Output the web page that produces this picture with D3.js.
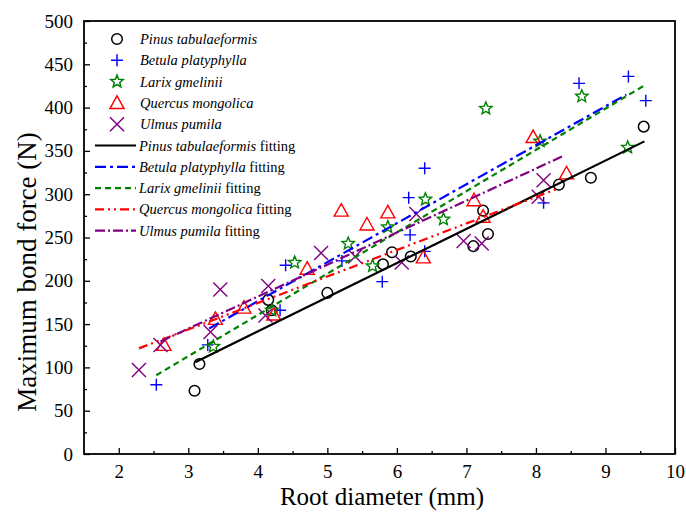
<!DOCTYPE html>
<html>
<head>
<meta charset="utf-8">
<script src="https://cdn.jsdelivr.net/npm/d3@7"></script>
<style>
  body { margin: 0; background: #fff; }
  text { font-family: "Liberation Serif", "DejaVu Serif", serif; }
</style>
</head>
<body>
<div id="vis"></div>
<script>
// root diameter (mm), maximum bond force (N)
var pinus = [[3.09,73],[3.16,104],[4.15,178],[4.2,166],[5.0,186],[5.8,219],[5.93,233],[6.2,228],
             [7.1,240],[7.24,281],[7.31,254],[8.33,311],[8.79,319],[9.55,378]];
var betula = [[2.54,80],[3.28,126],[4.32,166],[4.4,218],[5.21,223],[5.79,199],[6.17,296],[6.19,253],
              [6.4,234],[6.4,330],[8.11,290],[8.62,428],[9.33,436],[9.58,408]];
var larix = [[3.36,124],[4.2,166],[4.53,221],[5.3,243],[5.65,217],[5.87,262],[6.41,294],[6.67,271],
             [7.28,399],[8.06,361],[8.66,413],[9.32,354]];
var quercus = [[2.65,126],[3.39,156],[3.8,169],[4.23,161],[4.71,214],[5.2,281],[5.57,265],[5.87,279],
               [6.38,227],[7.11,293],[7.24,274],[7.96,366],[8.44,324]];
var ulmus = [[2.29,97],[2.6,126],[3.32,141],[3.46,190],[4.11,160],[4.15,194],[4.91,232],[5.4,228],
             [6.07,221],[6.28,277],[6.96,246],[7.22,243],[8.04,297],[8.11,316]];

// fitted lines: start and end points
var pinus_fit = [[3.1,106],[9.56,361]];
var betula_fit = [[3.3,145],[9.3,415]];
var larix_fit = [[2.54,91],[9.57,426]];
var quercus_fit = [[2.29,122],[8.3,306]];
var ulmus_fit = [[2.6,130],[8.39,344]];

var names = ["Pinus tabulaeformis", "Betula platyphylla", "Larix gmelinii", "Quercus mongolica", "Ulmus pumila"];
var x_ticks = [2,3,4,5,6,7,8,9,10];
var y_ticks = [0,50,100,150,200,250,300,350,400,450,500];

var width = 686, height = 513;
var margin = {left: 84, right: 11, top: 21, bottom: 59};

var scales = {
  x: d3.scaleLinear().domain([1.5, 10]).range([margin.left, width - margin.right]),
  y: d3.scaleLinear().domain([0, 500]).range([height - margin.bottom, margin.top])
};

var series = [
  {name: names[0], data: pinus, fit: pinus_fit, color: "#000000", marker: "circle", dash: null},
  {name: names[1], data: betula, fit: betula_fit, color: "#0000ff", marker: "plus", dash: "11,4,3,4"},
  {name: names[2], data: larix, fit: larix_fit, color: "#008000", marker: "star", dash: "6,4"},
  {name: names[3], data: quercus, fit: quercus_fit, color: "#ff0000", marker: "triangle", dash: "9,4,2,4,2,4"},
  {name: names[4], data: ulmus, fit: ulmus_fit, color: "#800080", marker: "cross", dash: "10,3,2,3"}
];

var svg = d3.select("#vis").append("svg")
  .attr("width", width)
  .attr("height", height);

// axes
var x_axis = d3.axisBottom(scales.x)
    .tickValues(x_ticks)
    .tickSize(-6)
    .tickPadding(11)
    .tickFormat(d3.format("d"));
var x_minor = d3.axisBottom(scales.x)
    .tickValues(d3.range(2.5, 10, 1))
    .tickSize(-3)
    .tickFormat("");
var y_axis = d3.axisLeft(scales.y)
    .tickValues(y_ticks)
    .tickSize(-6)
    .tickPadding(11)
    .tickFormat(d3.format("d"));
var y_minor = d3.axisLeft(scales.y)
    .tickValues(d3.range(25, 500, 50))
    .tickSize(-3)
    .tickFormat("");

var y0 = scales.y.range()[0];
svg.append("g").attr("class", "x_axis").attr("transform", "translate(0," + y0 + ")").call(x_axis);
svg.append("g").attr("class", "x_axis").attr("transform", "translate(0," + y0 + ")").call(x_minor);
svg.append("g").attr("class", "y_axis").attr("transform", "translate(" + margin.left + ",0)").call(y_axis);
svg.append("g").attr("class", "y_axis").attr("transform", "translate(" + margin.left + ",0)").call(y_minor);

svg.selectAll(".x_axis .domain, .y_axis .domain").remove();
svg.selectAll(".x_axis line, .y_axis line").attr("stroke", "#000").attr("stroke-width", 1.3);
svg.selectAll(".x_axis text, .y_axis text")
  .attr("font-family", "Liberation Serif")
  .attr("font-size", 19)
  .attr("fill", "#000");

// frame
svg.append("rect")
  .attr("x", margin.left)
  .attr("y", margin.top)
  .attr("width", width - margin.right - margin.left)
  .attr("height", y0 - margin.top)
  .attr("fill", "none")
  .attr("stroke", "#000")
  .attr("stroke-width", 1.8);

// axis titles
svg.append("text")
  .attr("x", 382)
  .attr("y", 505)
  .attr("text-anchor", "middle")
  .attr("font-size", 25)
  .text("Root diameter (mm)");
svg.append("text")
  .attr("transform", "translate(36," + 272 + ")rotate(-90)")
  .attr("text-anchor", "middle")
  .attr("font-size", 27)
  .text("Maximum bond force (N)");

// markers
function marker_path(type) {
  if (type === "plus") return "M-6,0H6M0,-6V6";
  if (type === "cross") return "M-7,-7L7,7M-7,7L7,-7";
  if (type === "triangle") return "M0,-7L7,5.5H-7Z";
  if (type === "circle") return "M5.3,0A5.3,5.3 0 1,1 -5.3,0A5.3,5.3 0 1,1 5.3,0Z";
  var pts = [];
  for (var i = 0; i < 10; i++) {
    var r = i % 2 === 0 ? 6.5 : 2.9;
    var a = Math.PI / 5 * i - Math.PI / 2;
    pts.push([r * Math.cos(a), r * Math.sin(a)]);
  }
  return "M" + pts.join("L") + "Z";
}

var line = d3.line()
  .x(function(d) { return scales.x(d[0]); })
  .y(function(d) { return scales.y(d[1]); });

var plot = svg.append("g");

series.forEach(function(s) {
  plot.selectAll(null)
    .data(s.data)
    .enter()
    .append("path")
    .attr("d", marker_path(s.marker))
    .attr("transform", function(d) { return "translate(" + scales.x(d[0]) + "," + scales.y(d[1]) + ")"; })
    .attr("fill", "none")
    .attr("stroke", s.color)
    .attr("stroke-width", s.marker === "circle" ? 1.5 : 1.4);
});

series.forEach(function(s) {
  plot.append("path")
    .datum(s.fit)
    .attr("d", line)
    .attr("fill", "none")
    .attr("stroke", s.color)
    .attr("stroke-width", 2.2)
    .attr("stroke-dasharray", s.dash);
});

// legend
var legend = svg.append("g").attr("transform", "translate(0,39)");
var row_h = 21.3;
series.forEach(function(s, i) {
  legend.append("path")
    .attr("d", marker_path(s.marker))
    .attr("transform", "translate(117," + (i * row_h) + ")")
    .attr("fill", "none")
    .attr("stroke", s.color)
    .attr("stroke-width", 1.5);
  legend.append("text")
    .attr("x", 140)
    .attr("y", i * row_h + 5)
    .attr("font-size", 14.5)
    .attr("font-style", "italic")
    .text(s.name);
});
series.forEach(function(s, i) {
  var yy = (i + 5) * row_h;
  legend.append("line")
    .attr("x1", 95).attr("x2", 136)
    .attr("y1", yy).attr("y2", yy)
    .attr("stroke", s.color)
    .attr("stroke-width", 2.2)
    .attr("stroke-dasharray", s.dash);
  var t = legend.append("text")
    .attr("x", 139)
    .attr("y", yy + 5)
    .attr("font-size", 14.5);
  t.append("tspan").attr("font-style", "italic").text(s.name);
  t.append("tspan").text(" fitting");
});
</script>
</body>
</html>
